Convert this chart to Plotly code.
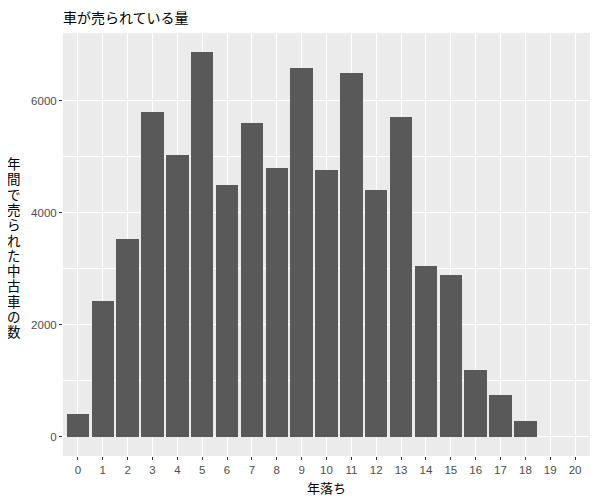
import plotly.graph_objects as go

years = list(range(0, 21))
counts = [406, 2420, 3530, 5806, 5036, 6864, 4498, 5609, 4803, 6577, 4767,
          6487, 4409, 5699, 3047, 2885, 1200, 753, 281, 0, 0]
title_text = "車が売られている量"
x_title = "年落ち"
y_title = "年間で売られた中古車の数"

bar_x = [x for x, c in zip(years, counts) if c > 0]
bar_y = [c for c in counts if c > 0]

ymax = max(counts)
ymin = 0
span = ymax - ymin
yr = [ymin - 0.05 * span, ymax + 0.05 * span]

OFF = 8  # page body margin
W, H = 600, 500
# panel in screen pixels
PX0, PX1, PY0, PY1 = 63, 590, 33, 456
L, T = PX0 - OFF, PY0 - OFF
R, B = W - (PX1 - OFF), H - (PY1 - OFF)
pw, ph = PX1 - PX0, PY1 - PY0

fig = go.Figure()
fig.add_trace(go.Bar(x=bar_x, y=bar_y, width=0.9, marker=dict(color="#595959", line=dict(width=0))))

cjk = "Noto Sans CJK JP"
fig.update_layout(
    width=W, height=H,
    margin=dict(l=L, r=R, t=T, b=B),
    paper_bgcolor="white", plot_bgcolor="#EBEBEB",
    showlegend=False, bargap=0,
    xaxis=dict(range=[-0.6, 20.6], tickvals=years, ticktext=[str(v) for v in years],
               showgrid=True, gridcolor="white", gridwidth=1.1, zeroline=False,
               ticks="outside", ticklen=3, tickcolor="#333333", tickwidth=1,
               tickfont=dict(family="Liberation Sans", size=11.5, color="#4D4D4D"),
               automargin=False, showline=False),
    yaxis=dict(range=yr, tickvals=[0, 2000, 4000, 6000],
               showgrid=True, gridcolor="white", gridwidth=1.1, zeroline=False,
               minor=dict(tickvals=[1000, 3000, 5000], showgrid=True, gridcolor="white", gridwidth=0.5, ticks=""),
               ticks="outside", ticklen=3, tickcolor="#333333", tickwidth=1,
               tickfont=dict(family="Liberation Sans", size=11.5, color="#4D4D4D"),
               automargin=False, showline=False),
)
# title
fig.add_annotation(text=title_text, xref="paper", yref="paper",
                   x=0, y=(PY1 - 16.5) / ph, xanchor="left", yanchor="middle", xshift=-2,
                   showarrow=False, font=dict(family=cjk, size=14, color="black"))
# x axis title
fig.add_annotation(text=x_title, xref="paper", yref="paper",
                   x=(326.5 - PX0) / pw, y=-(487 - PY1) / ph, xanchor="center", yanchor="middle",
                   showarrow=False, font=dict(family=cjk, size=13, color="black"))
# y axis title, stacked characters
for i, ch in enumerate(y_title):
    ypx = 163 + i * 15.3
    fig.add_annotation(text=ch, xref="paper", yref="paper",
                       x=(14 - PX0) / pw, y=(PY1 - ypx) / ph, xanchor="center", yanchor="middle",
                       showarrow=False, font=dict(family=cjk, size=13.5, color="black"))
fig.write_html("out.html")
